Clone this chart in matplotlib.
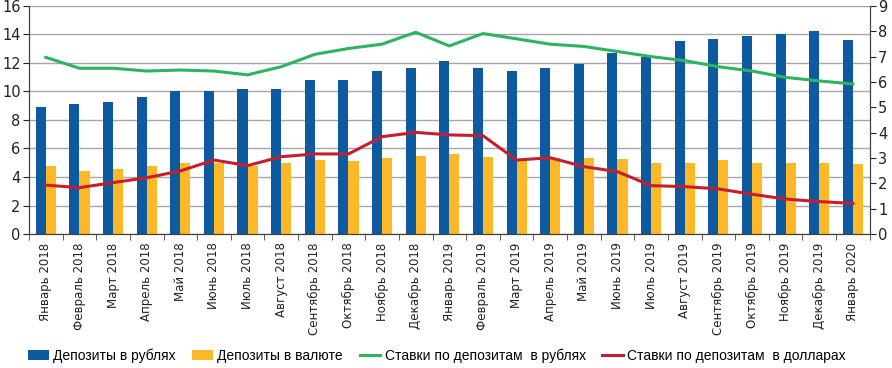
import numpy as np
import matplotlib.pyplot as plt
from matplotlib.ticker import MultipleLocator, FixedLocator

months = ['Январь 2018', 'Февраль 2018', 'Март 2018', 'Апрель 2018', 'Май 2018',
          'Июнь 2018', 'Июль 2018', 'Август 2018', 'Сентябрь 2018', 'Октябрь 2018',
          'Ноябрь 2018', 'Декабрь 2018', 'Январь 2019', 'Февраль 2019', 'Март 2019',
          'Апрель 2019', 'Май 2019', 'Июнь 2019', 'Июль 2019', 'Август 2019',
          'Сентябрь 2019', 'Октябрь 2019', 'Ноябрь 2019', 'Декабрь 2019', 'Январь 2020']
dep_rub = [8.9, 9.1, 9.25, 9.6, 10.0, 10.0, 10.2, 10.15, 10.83, 10.83, 11.46, 11.67, 12.14,
           11.67, 11.46, 11.67, 11.9, 12.68, 12.44, 13.52, 13.7, 13.92, 14.0, 14.27, 13.6]
dep_fx = [4.77, 4.44, 4.56, 4.77, 4.96, 4.95, 4.8, 4.96, 5.19, 5.12, 5.35, 5.47, 5.6,
          5.38, 5.2, 5.3, 5.35, 5.28, 5.0, 4.96, 5.19, 5.0, 5.0, 5.0, 4.91]
rate_rub = [6.97, 6.54, 6.54, 6.43, 6.47, 6.43, 6.28, 6.6, 7.09, 7.32, 7.49, 7.96, 7.42,
            7.91, 7.7, 7.49, 7.4, 7.2, 7.0, 6.84, 6.6, 6.43, 6.18, 6.04, 5.92]
rate_usd = [1.93, 1.83, 2.03, 2.22, 2.49, 2.92, 2.7, 3.05, 3.16, 3.16, 3.84, 4.01, 3.91,
            3.88, 2.92, 3.01, 2.66, 2.46, 1.91, 1.87, 1.78, 1.57, 1.38, 1.28, 1.21]

c_blue = '#0E5AA0'
c_yel = '#FDB827'
c_green = '#2EB35F'
c_red = '#C41F2E'

x = np.arange(len(months))
w = 0.3

fig = plt.figure(figsize=(8.92, 3.68), dpi=100)
ax = fig.add_axes([0.0325, 0.364, 0.9425, 0.62])
ax.set_axisbelow(True)
ax.yaxis.grid(True, color='#a6a6a6', linewidth=1)
ax.bar(x - w / 2, dep_rub, width=w, color=c_blue, label='Депозиты в рублях')
ax.bar(x + w / 2, dep_fx, width=w, color=c_yel, label='Депозиты в валюте')
ax.set_ylim(0, 16)
ax.set_xlim(-0.5, len(months) - 0.5)
ax.yaxis.set_major_locator(MultipleLocator(2))

ax2 = ax.twinx()
ax2.plot(x, rate_rub, color=c_green, lw=2.2, label='Ставки по депозитам  в рублях')
ax2.plot(x, rate_usd, color=c_red, lw=2.2, label='Ставки по депозитам  в долларах')
ax2.set_ylim(0, 9)
ax2.yaxis.set_major_locator(MultipleLocator(1))

for a in (ax, ax2):
    a.spines['top'].set_visible(False)
    for s in a.spines.values():
        s.set_color('#404040')
ax.set_xticks(x)
ax.set_xticklabels(months, rotation=90, fontsize=8.5, color='#222222')
ax.tick_params(axis='x', which='major', length=0, pad=6)
ax.xaxis.set_minor_locator(FixedLocator(np.arange(-0.5, len(months), 1)))
ax.tick_params(axis='x', which='minor', length=4, color='#404040')
ax.tick_params(axis='y', labelsize=10.5, length=4, colors='#222222', pad=2)
ax2.tick_params(axis='y', labelsize=10.5, length=4, colors='#222222', pad=2)

h1, l1 = ax.get_legend_handles_labels()
h2, l2 = ax2.get_legend_handles_labels()
fig.legend(h1 + h2, l1 + l2, loc='lower center', bbox_to_anchor=(0.49, -0.02), ncol=4,
           frameon=False, handlelength=1.5, handleheight=0.8, handletextpad=0.3,
           columnspacing=1.2, prop={'family': ['Liberation Sans', 'DejaVu Sans'], 'size': 10})

fig.savefig('out.png', dpi=100)
